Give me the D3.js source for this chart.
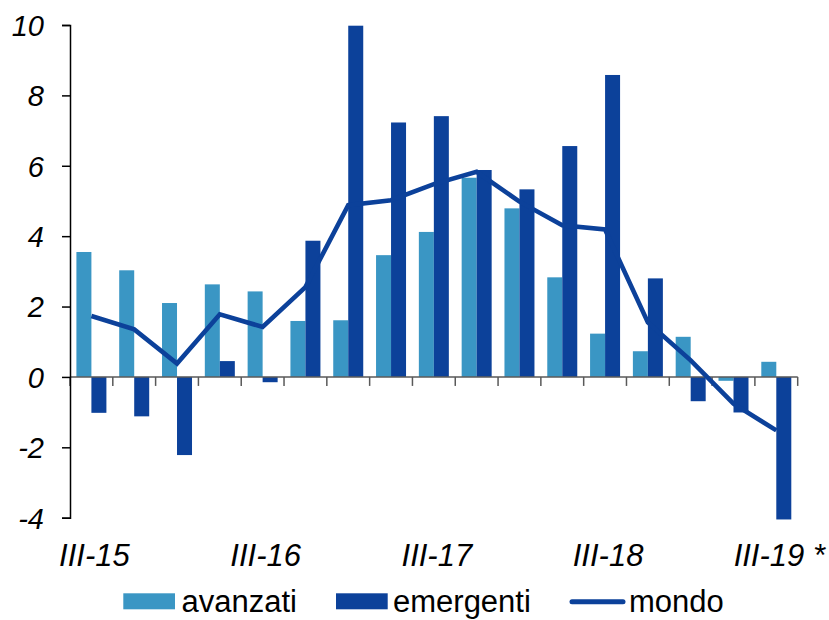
<!DOCTYPE html>
<html>
<head>
<meta charset="utf-8">
<script src="https://cdn.jsdelivr.net/npm/d3@7"></script>
<style>
  html, body { margin: 0; padding: 0; background: #fff; }
  svg { display: block; font-family: "Liberation Sans", Arial, sans-serif; }
</style>
</head>
<body>
<svg id="chart" width="829" height="620"></svg>
<script>
const categories = ["III-15","IV-15","I-16","II-16","III-16","IV-16","I-17","II-17","III-17","IV-17","I-18","II-18","III-18","IV-18","I-19","II-19","III-19 *"];
const avanzati  = [3.55, 3.03, 2.10, 2.63, 2.43, 1.59, 1.61, 3.46, 4.12, 5.66, 4.79, 2.83, 1.23, 0.73, 1.14, -0.11, 0.43];
const emergenti = [-1.02, -1.12, -2.22, 0.45, -0.15, 3.87, 9.98, 7.23, 7.41, 5.88, 5.33, 6.56, 8.58, 2.80, -0.69, -1.01, -4.05];
const mondo     = [1.73, 1.35, 0.38, 1.78, 1.42, 2.55, 4.88, 5.02, 5.48, 5.83, 4.98, 4.31, 4.19, 1.55, 0.47, -0.76, -1.52];
const yTicks = [-4, -2, 0, 2, 4, 6, 8, 10];
const xLabelIdx = [0, 4, 8, 12, 16];
const seriesNames = ["avanzati", "emergenti", "mondo"];

const C_LIGHT = "#3A96C4", C_DARK = "#0C419A";

const svg = d3.select("#chart");
const pLeft = 70, pRight = 797.7, pTop = 25, pBottom = 517.7;

const x = d3.scaleBand().domain(categories).range([pLeft, pRight]).paddingInner(0).paddingOuter(0);
const x1 = d3.scaleBand().domain(["avanzati","emergenti"]).range([0, x.bandwidth()]).paddingInner(0).paddingOuter(0.427);
const y = d3.scaleLinear().domain([-4, 10]).range([pBottom, pTop]);

const data = categories.map((c, i) => ({c, a: avanzati[i], e: emergenti[i], m: mondo[i]}));

// bars
const g = svg.append("g");
g.selectAll("rect.a").data(data).enter().append("rect")
  .attr("x", d => x(d.c) + x1("avanzati"))
  .attr("width", x1.bandwidth())
  .attr("y", d => y(Math.max(0, d.a)))
  .attr("height", d => Math.abs(y(d.a) - y(0)))
  .attr("fill", C_LIGHT);
g.selectAll("rect.e").data(data).enter().append("rect")
  .attr("x", d => x(d.c) + x1("emergenti"))
  .attr("width", x1.bandwidth())
  .attr("y", d => y(Math.max(0, d.e)))
  .attr("height", d => Math.abs(y(d.e) - y(0)))
  .attr("fill", C_DARK);

// x axis at zero
const xAxis = svg.append("g").attr("transform", `translate(0,${y(0)})`);
xAxis.append("line").attr("x1", pLeft).attr("x2", pRight).attr("y1", 0).attr("y2", 0)
  .attr("stroke", "#595959").attr("stroke-width", 1.5);
const boundaries = categories.map(c => x(c)).concat([pRight]);
xAxis.selectAll("line.t").data(boundaries).enter().append("line")
  .attr("x1", d => d).attr("x2", d => d).attr("y1", 0).attr("y2", 9)
  .attr("stroke", "#595959").attr("stroke-width", 1.5);

// x labels
svg.append("g").selectAll("text").data(xLabelIdx).enter().append("text")
  .attr("x", i => x(categories[i]) + x.bandwidth() / 2 + 3)
  .attr("y", 566)
  .attr("text-anchor", "middle")
  .attr("font-style", "italic")
  .attr("font-size", 31)
  .attr("fill", "#000")
  .text(i => categories[i]);

// y axis
const yAxisG = svg.append("g").attr("transform", `translate(${pLeft},0)`)
  .call(d3.axisLeft(y).tickValues(yTicks).tickSize(8).tickPadding(0).tickFormat(d3.format("d")));
yAxisG.select(".domain").attr("stroke", "#000").attr("stroke-width", 1.5);
yAxisG.selectAll(".tick line").attr("stroke", "#000").attr("stroke-width", 1.5);
yAxisG.selectAll(".tick text")
  .attr("x", -26).attr("dy", "0.36em")
  .attr("font-family", "'Liberation Sans', Arial, sans-serif")
  .attr("font-style", "italic").attr("font-size", 29).attr("fill", "#000")
  .text(d => d < 0 ? "-" + Math.abs(d) : d);

// line
const line = d3.line().x(d => x(d.c) + x.bandwidth() / 2).y(d => y(d.m));
svg.append("path").datum(data).attr("d", line)
  .attr("fill", "none").attr("stroke", C_DARK).attr("stroke-width", 4.6)
  .attr("stroke-linejoin", "miter");

// legend
const lg = svg.append("g").attr("font-size", 31).attr("fill", "#000");
lg.append("rect").attr("x", 123.3).attr("y", 593.3).attr("width", 51.7).attr("height", 16).attr("fill", C_LIGHT);
lg.append("text").attr("x", 181.5).attr("y", 612).text(seriesNames[0]);
lg.append("rect").attr("x", 336).attr("y", 593.3).attr("width", 51.7).attr("height", 16).attr("fill", C_DARK);
lg.append("text").attr("x", 393).attr("y", 612).text(seriesNames[1]);
lg.append("line").attr("x1", 572).attr("x2", 623).attr("y1", 601.7).attr("y2", 601.7)
  .attr("stroke", C_DARK).attr("stroke-width", 5).attr("stroke-linecap", "round");
lg.append("text").attr("x", 629).attr("y", 612).text(seriesNames[2]);
</script>
</body>
</html>
